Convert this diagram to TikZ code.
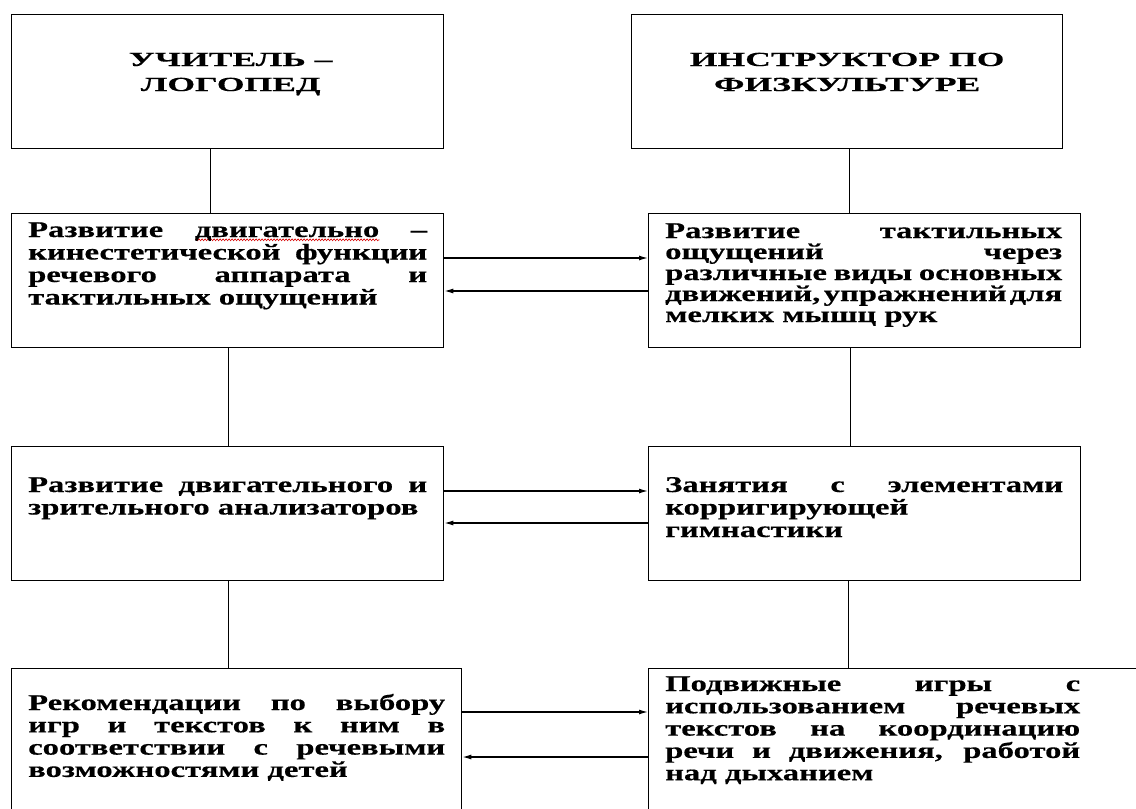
\documentclass[tikz,border=0pt]{standalone}
\usepackage{fontspec}
\usetikzlibrary{arrows.meta,decorations.pathmorphing,calc}
\newfontfamily\tf{Liberation Serif}[FakeStretch=1.45,FakeBold=0.4]
\newfontfamily\tft{Liberation Serif}[FakeStretch=1.78,FakeBold=0.4]
\hbadness=10000 \hfuzz=80pt
\newlength\wavl
\newcommand\wavy[1]{\settowidth\wavl{#1}\rlap{\raisebox{-4pt}{\tikz[x=1pt,y=1pt]\draw[red!85!black,line width=0.6pt,decorate,decoration={snake,amplitude=0.9pt,segment length=3pt}] (0,0)--(\wavl,0);}}#1}
\newcommand\JL[2]{\hbox to #1{#2}}
\newcommand\NL[1]{\hbox{#1}}
\begin{document}
\begin{tikzpicture}[x=1pt,y=-1pt,
  box/.style={draw=black, line width=1.3pt, rectangle, inner sep=0pt, anchor=north west},
  txt/.style={inner sep=0pt, font=\tf\bfseries\fontsize{22.5}{22.3}\selectfont, text=black},
  ttl/.style={inner sep=0pt, font=\tft\bfseries\fontsize{20}{25}\selectfont, text=black},
  link/.style={draw=black, line width=1.3pt},
  arr/.style={link, -{Latex[length=9pt,width=5pt]}}]
\useasboundingbox (0,0) rectangle (1136,809);
\clip (0,0) rectangle (1136,809);
\fill[white] (0,0) rectangle (1136,809);
% boxes
\node[box, minimum width=432pt, minimum height=134pt] (a1) at (11,14) {};
\node[box, minimum width=431pt, minimum height=134pt] (a2) at (631,14) {};
\node[box, minimum width=432pt, minimum height=134pt] (l2) at (11,213) {};
\node[box, minimum width=432pt, minimum height=134pt] (r2) at (648,213) {};
\node[box, minimum width=432pt, minimum height=134pt] (l3) at (11,446) {};
\node[box, minimum width=432pt, minimum height=134pt] (r3) at (648,446) {};
\node[box, minimum width=450pt, minimum height=200pt] (l4) at (11,668) {};
\node[box, minimum width=520pt, minimum height=200pt] (r4) at (648,668) {};
% titles
\node[ttl, anchor=base] (ta1) at ([xshift=3pt,yshift=-52pt]a1.north) {\vtop{\baselineskip=25pt\JL{420pt}{\hfil УЧИТЕЛЬ –\hfil}\JL{420pt}{\hfil ЛОГОПЕД\hfil}}};
\node[ttl, anchor=base] (ta2) at ([yshift=-52pt]a2.north) {\vtop{\baselineskip=25pt\JL{420pt}{\hfil ИНСТРУКТОР ПО\hfil}\JL{420pt}{\hfil ФИЗКУЛЬТУРЕ\hfil}}};
% texts
\node[txt, anchor=base west] (tl2) at ([xshift=17pt,yshift=-24pt]l2.north west) {\vtop{\baselineskip=22.5pt\JL{399pt}{Развитие \wavy{двигательно} –}\JL{399pt}{кинестетической функции}\JL{399pt}{речевого аппарата и}\NL{тактильных ощущений}}};
\node[txt, anchor=base west] (tr2) at ([xshift=17pt,yshift=-25pt]r2.north west) {\vtop{\baselineskip=21pt\JL{397pt}{Развитие тактильных}\JL{397pt}{ощущений через}\JL{397pt}{\spaceskip=3pt plus 20pt minus 1pt различные виды основных}\JL{397pt}{\spaceskip=2pt plus 20pt minus 1pt движений, упражнений для}\NL{мелких мышц рук}}};
\node[txt, anchor=base west] (tl3) at ([xshift=17pt,yshift=-46pt]l3.north west) {\vtop{\baselineskip=22.5pt\JL{399pt}{Развитие двигательного и}\NL{зрительного анализаторов}}};
\node[txt, anchor=base west] (tr3) at ([xshift=17pt,yshift=-46pt]r3.north west) {\vtop{\baselineskip=22.5pt\JL{398pt}{Занятия с элементами}\NL{корригирующей}\NL{гимнастики}}};
\node[txt, anchor=base west] (tl4) at ([xshift=17pt,yshift=-42pt]l4.north west) {\vtop{\baselineskip=22.3pt\JL{417pt}{Рекомендации по выбору}\JL{417pt}{игр и текстов к ним в}\JL{417pt}{соответствии с речевыми}\NL{возможностями детей}}};
\node[txt, anchor=base west] (tr4) at ([xshift=17pt,yshift=-23pt]r4.north west) {\vtop{\baselineskip=22.3pt\JL{415pt}{Подвижные игры с}\JL{415pt}{использованием речевых}\JL{415pt}{текстов на координацию}\JL{415pt}{речи и движения, работой}\NL{над дыханием}}};
% vertical connectors
\draw[link] ([xshift=-17pt]a1.south) -- ([xshift=-17pt]a1.south |- l2.north);
\draw[link] ([xshift=2.5pt]a2.south) -- ([xshift=2.5pt]a2.south |- r2.north);
\draw[link] ([xshift=1pt]l2.south) -- ([xshift=1pt]l2.south |- l3.north);
\draw[link] ([xshift=-14pt]r2.south) -- ([xshift=-14pt]r2.south |- r3.north);
\draw[link] ([xshift=1pt]l3.south) -- ([xshift=1pt]l3.south |- l4.north);
\draw[link] ([xshift=-16pt]r3.south) -- ([xshift=-16pt]r3.south |- r4.north);
% horizontal arrows
\draw[arr] ([yshift=-45pt]l2.north east) -- ([yshift=-45pt]l2.north east -| r2.west);
\draw[arr] ([yshift=-78pt]r2.north west) -- ([yshift=-78pt]r2.north west -| l2.east);
\draw[arr] ([yshift=-45pt]l3.north east) -- ([yshift=-45pt]l3.north east -| r3.west);
\draw[arr] ([yshift=-77pt]r3.north west) -- ([yshift=-77pt]r3.north west -| l3.east);
\draw[arr] ([yshift=-44pt]l4.north east) -- ([yshift=-44pt]l4.north east -| r4.west);
\draw[arr] ([yshift=-89pt]r4.north west) -- ([yshift=-89pt]r4.north west -| l4.east);
\end{tikzpicture}
\end{document}
